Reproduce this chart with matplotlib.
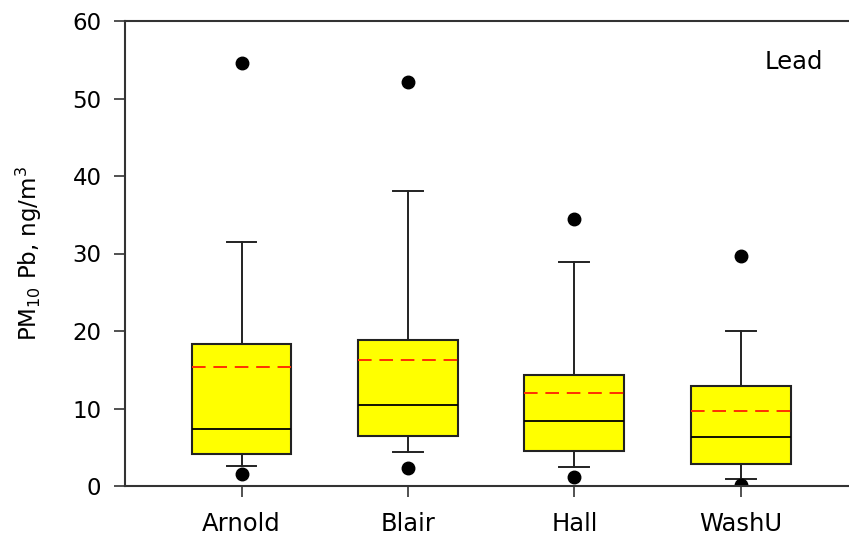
import matplotlib
matplotlib.use("Agg")
import matplotlib.pyplot as plt

sites = ["Arnold", "Blair", "Hall", "WashU"]
q1 = [4.1, 6.5, 4.5, 2.9]
median = [7.4, 10.4, 8.4, 6.3]
q3 = [18.3, 18.9, 14.3, 12.9]
mean = [15.4, 16.3, 12.0, 9.7]
whislo = [2.6, 4.35, 2.4, 0.9]
whishi = [31.5, 38.1, 28.9, 20.0]
fliers = [[1.6, 54.6], [2.3, 52.1], [1.1, 34.5], [0.15, 29.7]]

plt.rcParams['font.family'] = ['DejaVu Sans']
plt.rcParams['mathtext.default'] = 'regular'

fig = plt.figure(figsize=(8.49, 5.37), dpi=100)
ax = fig.add_axes([125/849, 1-486/537, 1-125/849, (486-21)/537])

stats = []
for i, s in enumerate(sites):
    stats.append(dict(label=s, q1=q1[i], med=median[i], q3=q3[i], mean=mean[i],
                      whislo=whislo[i], whishi=whishi[i], fliers=fliers[i]))

lc = '#222222'
ax.bxp(stats, positions=range(1, 5), widths=0.6, patch_artist=True,
       showmeans=True, meanline=True,
       boxprops=dict(facecolor='#ffff00', edgecolor=lc, linewidth=1.5),
       medianprops=dict(color='black', linewidth=1.3),
       meanprops=dict(color='#ff3000', linestyle=(0, (7, 4)), linewidth=1.4),
       whiskerprops=dict(color=lc, linewidth=1.4),
       capprops=dict(color=lc, linewidth=1.4),
       capwidths=0.18,
       flierprops=dict(marker='o', markerfacecolor='black', markeredgecolor='black', markersize=9))

ax.set_xlim(0.3, 4.65)
ax.set_ylim(0, 60)
ax.set_yticks([0, 10, 20, 30, 40, 50, 60])
ax.set_xticks(range(1, 5))
ax.set_xticklabels(sites)
ax.spines['right'].set_visible(False)
for sp in ['left', 'top', 'bottom']:
    ax.spines[sp].set_color('#333333')
    ax.spines[sp].set_linewidth(1.5)
ax.tick_params(axis='both', direction='out', length=8, width=1.2, color='#333333')
ax.tick_params(axis='y', labelsize=16.5, pad=9)
ax.tick_params(axis='x', labelsize=17.5, pad=10.5)
ax.set_ylabel(r'PM$_{10}$ Pb, ng/m$^3$', fontsize=16.5, labelpad=20)
fig.text(823/849, 1-62/537, 'Lead', ha='right', va='center', fontsize=17.5)

fig.savefig('out.png', dpi=100)
